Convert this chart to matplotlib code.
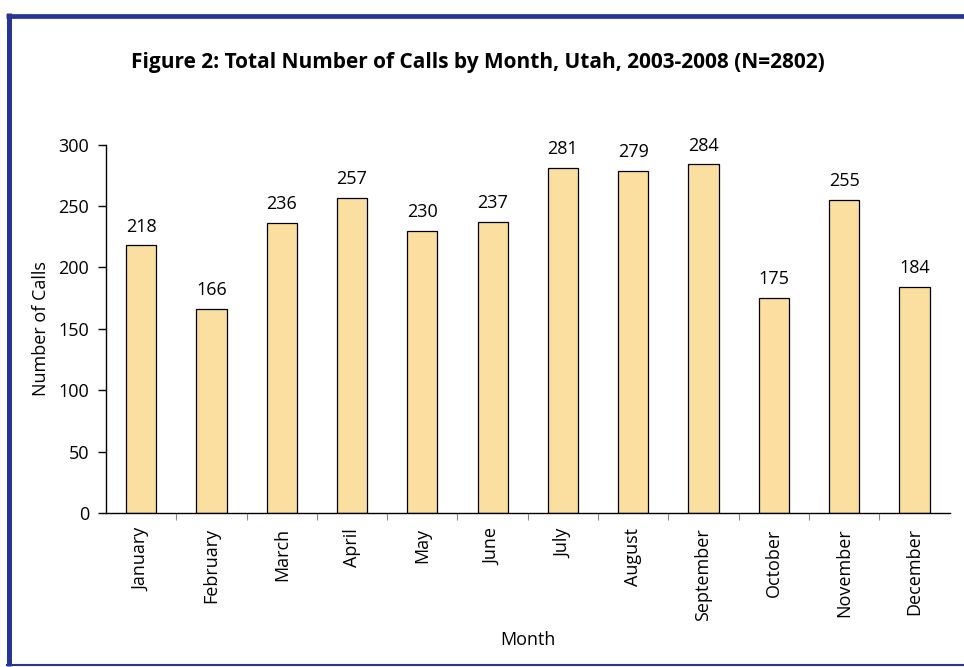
import matplotlib.pyplot as plt
from matplotlib.lines import Line2D

plt.rcParams['font.family'] = ['Open Sans', 'DejaVu Sans']

months = ['January', 'February', 'March', 'April', 'May', 'June', 'July',
          'August', 'September', 'October', 'November', 'December']
calls = [218, 166, 236, 257, 230, 237, 281, 279, 284, 175, 255, 184]

W, H = 964, 667
fig = plt.figure(figsize=(W / 100, H / 100), dpi=100)

# blue frame (top, left, bottom); the right side runs off the picture
frame = '#283593'
fig.lines.append(Line2D([6 / W, 1], [1 - 15.5 / H] * 2, transform=fig.transFigure,
                        color=frame, linewidth=3.4, solid_capstyle='butt'))
fig.lines.append(Line2D([8.5 / W] * 2, [1 - 13 / H, 1 - 666 / H], transform=fig.transFigure,
                        color=frame, linewidth=3.6, solid_capstyle='butt'))
fig.lines.append(Line2D([6 / W, 1], [1 - 664.5 / H] * 2, transform=fig.transFigure,
                        color=frame, linewidth=1.5, solid_capstyle='butt'))

ax = fig.add_axes([0.110, 0.231, 0.875, 0.552])
x = range(len(months))
ax.bar(x, calls, width=0.43, color='#FADFA0', edgecolor='black', linewidth=0.9)
for xi, v in zip(x, calls):
    ax.text(xi, v + 8, str(v), ha='center', va='bottom', fontsize=13)

ax.set_xlim(-0.5, len(months) - 0.5)
ax.set_ylim(0, 300)
ax.set_yticks(range(0, 301, 50))
ax.tick_params(axis='y', labelsize=13, direction='out', length=6, width=1, pad=6)
ax.set_xticks([i - 0.5 for i in range(1, len(months))])
ax.set_xticklabels([])
ax.set_xticks(list(x), minor=True)
ax.set_xticklabels(months, minor=True, rotation=90, fontsize=13)
ax.tick_params(axis='x', which='major', direction='out', length=5, color='#888888')
ax.tick_params(axis='x', which='minor', length=0, pad=11)

for s in ['top', 'right']:
    ax.spines[s].set_visible(False)
ax.spines['left'].set_linewidth(1)
ax.spines['bottom'].set_linewidth(1)

ax.set_ylabel('Number of Calls', fontsize=13, labelpad=6)
ax.set_xlabel('Month', fontsize=13, labelpad=7)

fig.text(0.4955, 0.907, 'Figure 2: Total Number of Calls by Month, Utah, 2003-2008 (N=2802)',
         ha='center', va='center', fontsize=15, fontweight='bold')

fig.savefig('out.png', dpi=100)
